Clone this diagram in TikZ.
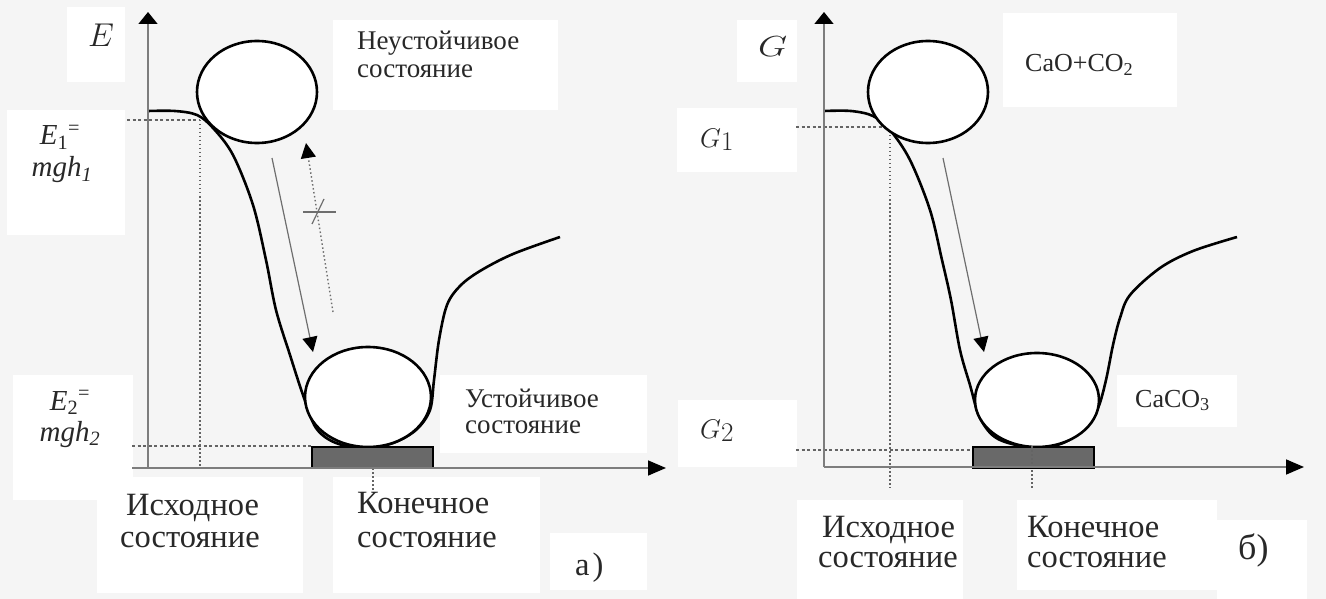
\documentclass[tikz,border=0pt]{standalone}
\usepackage{fix-cm}
\usepackage{graphicx}
\usepackage{fontspec}
\setmainfont{Liberation Serif}
\usetikzlibrary{arrows.meta,shapes.geometric}
\definecolor{bgc}{RGB}{245,245,245}
\definecolor{axisc}{RGB}{125,125,125}
\definecolor{groundc}{RGB}{105,105,105}
\definecolor{dashc}{RGB}{100,100,100}
\definecolor{thinc}{RGB}{110,110,110}
\definecolor{textc}{RGB}{40,40,40}
\begin{document}
\begin{tikzpicture}[x=1pt,y=-1pt,
  axisline/.style={draw=axisc, line width=1.6pt},
  curveline/.style={draw=black, line width=2.6pt, line join=round},
  ballnode/.style={ellipse, draw=black, line width=2.6pt, fill=white, inner sep=0pt},
  groundbox/.style={draw=black, line width=1.8pt, fill=groundc, inner sep=0pt, anchor=north west, minimum width=121pt, minimum height=21pt},
  dashline/.style={draw=dashc, line width=1.3pt, dash pattern=on 3pt off 2.5pt},
  dotline/.style={draw=dashc, line width=1.5pt, dash pattern=on 1.5pt off 2.5pt},
  thinarrow/.style={draw=thinc, line width=1.2pt, -{Triangle[width=15pt,length=15pt,black]}},
  wbox/.style={fill=white, draw=none},
  txt/.style={inner sep=0pt, anchor=base west, text=textc, font=\fontsize{27}{28}\selectfont},
  bigtxt/.style={inner sep=0pt, anchor=base west, text=textc, font=\fontsize{32.5}{33}\selectfont},
  midtxt/.style={inner sep=0pt, anchor=base west, text=textc, font=\fontsize{27}{27}\selectfont},
  chemtxt/.style={inner sep=0pt, anchor=base west, text=textc, font=\fontsize{26}{26}\selectfont},
  mathlbl/.style={inner sep=0pt, anchor=base west, text=textc, font=\fontsize{29}{30}\selectfont},
  eqlbl/.style={inner sep=0pt, anchor=base, text=textc, font=\fontsize{29}{30}\selectfont},
]
\useasboundingbox (0,0) rectangle (1326,599);
\fill[bgc] (0,0) rectangle (1326,599);
% white label boxes
\fill[wbox] (67,7) rectangle (125,82);
\fill[wbox] (7,110) rectangle (125,235);
\fill[wbox] (333,20) rectangle (558,110);
\fill[wbox] (440,375) rectangle (647,453);
\fill[wbox] (13,375) rectangle (133,500);
\fill[wbox] (97,477) rectangle (303,593);
\fill[wbox] (333,477) rectangle (540,593);
\fill[wbox] (550,533) rectangle (647,590);
\fill[wbox] (737,20) rectangle (797,82);
\fill[wbox] (677,108) rectangle (797,172);
\fill[wbox] (1003,13) rectangle (1177,107);
\fill[wbox] (1117,375) rectangle (1237,427);
\fill[wbox] (678,400) rectangle (797,467);
\fill[wbox] (797,500) rectangle (963,599);
\fill[wbox] (1017,500) rectangle (1217,590);
\fill[wbox] (1217,520) rectangle (1307,599);

% ===== panel a =====
\coordinate (aO) at (148,468);
\coordinate (aYt) at (148,12);
\coordinate (aXl) at (132,468);
\coordinate (aXt) at (666,468);
\coordinate (aE1l) at (127,120);
\coordinate (aE1r) at (200,120);
\coordinate (aE1b) at (200,466);
\coordinate (aE2l) at (132,446);
\coordinate (aE2r) at (311,446);
\coordinate (aKt) at (373,468);
\coordinate (aKb) at (373,492);
\draw[dashline] (aE1l) -- (aE1r);
\draw[dotline] (aE1r) -- (aE1b);
\draw[dashline] (aE2l) -- (aE2r);
\draw[dotline] (aKt) -- (aKb);

\draw[curveline] plot[smooth, tension=0.55] coordinates {
 (148,111) (175,111) (197,115) (213,128) (233,155) (253,205) (266,260) (276,310)
 (290,355) (303,395) (316,428) (336,443) (365,448) (393,443) (416,430) (430,410)
 (434,380) (439,340) (447,305) (460,286) (480,271) (513,254) (560,237)};

\node[ballnode, minimum width=120pt, minimum height=102pt] (aB1) at (257,92) {};
\node[ballnode, minimum width=126pt, minimum height=100pt] (aB2) at (368,397) {};
\node[groundbox] (aG) at (311,446) {};

\coordinate (aA1s) at (272,158);
\coordinate (aA1e) at (313,352);
\draw[thinarrow] (aA1s) -- (aA1e);
\coordinate (aA2s) at (333,312);
\coordinate (aA2e) at (306,143);
\draw[thinarrow, dash pattern=on 1.5pt off 2.5pt, line width=1.4pt] (aA2s) -- (aA2e);
\coordinate (aC1) at (303,212);
\coordinate (aC2) at (336,212);
\coordinate (aC3) at (312,224);
\coordinate (aC4) at (324,199);
\draw[thinc, line width=1.2pt] (aC1) -- (aC2);
\draw[thinc, line width=1.2pt] (aC3) -- (aC4);

\draw[axisline, -{Triangle[width=19pt,length=12pt,black]}] (aO) -- (aYt);
\draw[axisline, -{Triangle[width=15pt,length=18pt,black]}] (aXl) -- (aXt);

\node[mathlbl, font=\fontsize{33}{34}\selectfont] (aE) at (88,47) {$E$};
\node[eqlbl] (aE1a) at (60,145) {\textit{E}\textsubscript{1}\textsuperscript{=}};
\node[eqlbl] (aE1b) at (62,177) {\textit{mgh\textsubscript{1}}};
\node[eqlbl] (aE2a) at (70,410) {\textit{E}\textsubscript{2}\textsuperscript{=}};
\node[eqlbl] (aE2b) at (70,441) {\textit{mgh\textsubscript{2}}};
\node[txt] (aN1) at (357,50) {Неустойчивое};
\node[txt] (aN2) at (357,78) {состояние};
\node[midtxt] (aU1) at (465,407) {Устойчивое};
\node[midtxt] (aU2) at (465,433) {состояние};
\node[bigtxt] (aI1) at (126,515) {Исходное};
\node[bigtxt] (aI2) at (120,547) {состояние};
\node[bigtxt] (aK1) at (357,513) {Конечное};
\node[bigtxt] (aK2) at (357,547) {состояние};
\node[bigtxt] (aL) at (575,575) {а\hspace{3pt})};

% ===== panel b =====
\coordinate (bO) at (824,467);
\coordinate (bYt) at (824,12);
\coordinate (bXt) at (1304,467);
\coordinate (bG1l) at (796,127);
\coordinate (bG1r) at (890,127);
\coordinate (bG1b) at (890,488);
\coordinate (bG2l) at (796,450);
\coordinate (bG2r) at (972,450);
\coordinate (bKt) at (1032,446);
\coordinate (bKb) at (1032,490);
\draw[dashline] (bG1l) -- (bG1r);
\draw[dotline] (bG1r) -- (bG1b);
\draw[dashline] (bG2l) -- (bG2r);

\draw[curveline] plot[smooth, tension=0.55] coordinates {
 (824,111) (851,111) (873,116) (890,130) (910,160) (930,210) (942,260) (951,300)
 (960,350) (970,385) (980,418) (998,439) (1035,448) (1063,443) (1085,428) (1098,408)
 (1106,380) (1113,345) (1120,318) (1130,295) (1160,268) (1193,251) (1237,237)};

\node[ballnode, minimum width=120pt, minimum height=102pt] (bB1) at (928,92) {};
\node[ballnode, minimum width=124pt, minimum height=94pt] (bB2) at (1037,400) {};
\node[groundbox] (bG) at (972,446) {};
\draw[dotline] (bKt) -- (bKb);

\coordinate (bA1s) at (943,158);
\coordinate (bA1e) at (984,352);
\draw[thinarrow] (bA1s) -- (bA1e);

\draw[axisline, -{Triangle[width=19pt,length=12pt,black]}] (bO) -- (bYt);
\draw[axisline, -{Triangle[width=15pt,length=18pt,black]}] (bO) -- (bXt);

\node[mathlbl] (bGl) at (758,57) {\scalebox{1.3}[1]{$G$}};
\node[mathlbl, font=\fontsize{27}{28}\selectfont] (bG1t) at (700,148) {$G$\raisebox{-3pt}{$1$}};
\node[mathlbl, font=\fontsize{27}{28}\selectfont] (bG2t) at (700,438) {$G$\raisebox{-3pt}{$2$}};
\node[chemtxt] (bCa1) at (1025,72) {CaO+CO\textsubscript{2}};
\node[chemtxt] (bCa2) at (1135,407) {CaCO\textsubscript{3}};
\node[bigtxt] (bI1) at (822,537) {Исходное};
\node[bigtxt] (bI2) at (818,567) {состояние};
\node[bigtxt] (bK1) at (1027,537) {Конечное};
\node[bigtxt] (bK2) at (1027,567) {состояние};
\node[bigtxt, font=\fontsize{36}{36}\selectfont] (bL) at (1238,559) {б)};
\end{tikzpicture}
\end{document}
